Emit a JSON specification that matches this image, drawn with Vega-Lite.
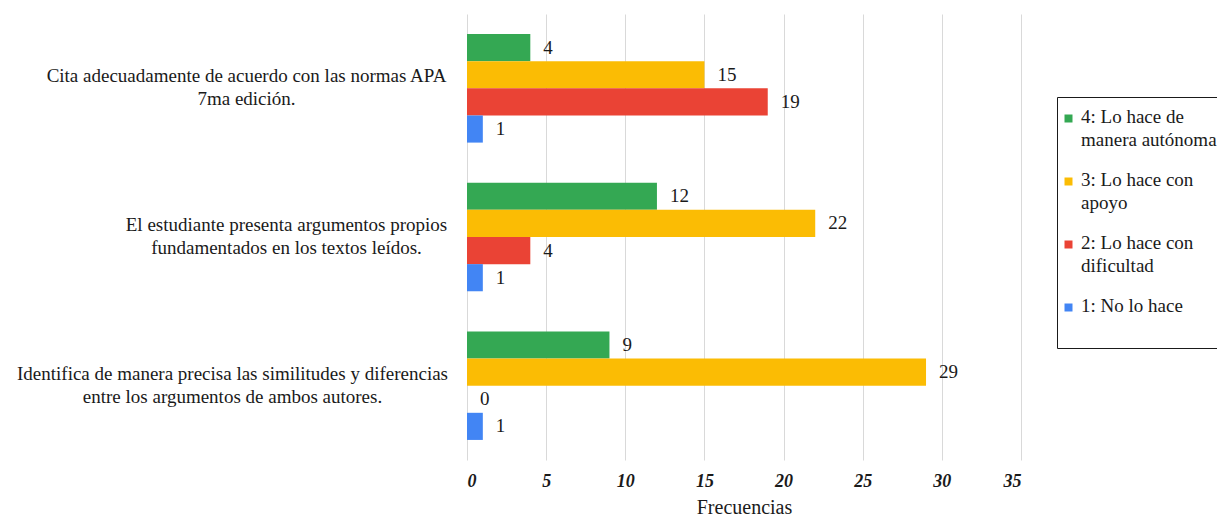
{
  "$schema": "https://vega.github.io/schema/vega-lite/v6.json",
  "autosize": {"type": "none"},
  "padding": {"left": 467, "top": 14, "right": 196, "bottom": 56},
  "width": 554,
  "height": 446,
  "background": "white",
  "config": {"view": {"stroke": null}, "font": "Liberation Serif"},
  "data": {
    "values": [
      {"criterio": "Cita adecuadamente de acuerdo con las normas APA|7ma edición.", "nivel": "4: Lo hace de|manera autónoma", "frecuencia": 4},
      {"criterio": "Cita adecuadamente de acuerdo con las normas APA|7ma edición.", "nivel": "3: Lo hace con|apoyo", "frecuencia": 15},
      {"criterio": "Cita adecuadamente de acuerdo con las normas APA|7ma edición.", "nivel": "2: Lo hace con|dificultad", "frecuencia": 19},
      {"criterio": "Cita adecuadamente de acuerdo con las normas APA|7ma edición.", "nivel": "1: No lo hace", "frecuencia": 1},
      {"criterio": "El estudiante presenta argumentos propios|fundamentados en los textos leídos.", "nivel": "4: Lo hace de|manera autónoma", "frecuencia": 12},
      {"criterio": "El estudiante presenta argumentos propios|fundamentados en los textos leídos.", "nivel": "3: Lo hace con|apoyo", "frecuencia": 22},
      {"criterio": "El estudiante presenta argumentos propios|fundamentados en los textos leídos.", "nivel": "2: Lo hace con|dificultad", "frecuencia": 4},
      {"criterio": "El estudiante presenta argumentos propios|fundamentados en los textos leídos.", "nivel": "1: No lo hace", "frecuencia": 1},
      {"criterio": "Identifica de manera precisa las similitudes y diferencias|entre los argumentos de ambos autores.", "nivel": "4: Lo hace de|manera autónoma", "frecuencia": 9},
      {"criterio": "Identifica de manera precisa las similitudes y diferencias|entre los argumentos de ambos autores.", "nivel": "3: Lo hace con|apoyo", "frecuencia": 29},
      {"criterio": "Identifica de manera precisa las similitudes y diferencias|entre los argumentos de ambos autores.", "nivel": "2: Lo hace con|dificultad", "frecuencia": 0},
      {"criterio": "Identifica de manera precisa las similitudes y diferencias|entre los argumentos de ambos autores.", "nivel": "1: No lo hace", "frecuencia": 1}
    ]
  },
  "encoding": {
    "y": {
      "field": "criterio",
      "type": "nominal",
      "sort": null,
      "scale": {"paddingInner": 0.27, "paddingOuter": 0.135},
      "axis": {
        "title": null,
        "ticks": false,
        "domain": false,
        "labelAlign": "center",
        "labelBaseline": "middle",
        "labelOffset": -12,
        "labelPadding": {
          "condition": [
            {"test": "indexof(datum.value, 'Cita') === 0", "value": 221},
            {"test": "indexof(datum.value, 'El estudiante') === 0", "value": 181}
          ],
          "value": 235
        },
        "labelFont": "Liberation Serif",
        "labelFontSize": 19,
        "labelColor": "#1a1a1a",
        "labelLimit": 600,
        "labelLineHeight": 23,
        "labelExpr": "split(datum.label, '|')"
      }
    },
    "yOffset": {
      "field": "nivel",
      "type": "nominal",
      "sort": ["4: Lo hace de|manera autónoma", "3: Lo hace con|apoyo", "2: Lo hace con|dificultad", "1: No lo hace"]
    },
    "x": {
      "field": "frecuencia",
      "type": "quantitative",
      "scale": {"domain": [0, 35], "nice": false},
      "axis": {
        "title": "Frecuencias",
        "titleFont": "Liberation Serif",
        "titleFontSize": 20,
        "titleFontWeight": "normal",
        "titleColor": "#1a1a1a",
        "titlePadding": 7,
        "values": [0, 5, 10, 15, 20, 25, 30, 35],
        "ticks": false,
        "domain": false,
        "labelPadding": 12,
        "labelFont": "Liberation Serif",
        "labelFontSize": 18,
        "labelFontWeight": "bold",
        "labelFontStyle": "italic",
        "labelColor": "#1a1a1a",
        "gridColor": "#d9d9d9",
        "gridWidth": 1
      }
    }
  },
  "layer": [
    {
      "mark": {"type": "bar"},
      "encoding": {
        "color": {
          "field": "nivel",
          "type": "nominal",
          "scale": {
            "domain": ["4: Lo hace de|manera autónoma", "3: Lo hace con|apoyo", "2: Lo hace con|dificultad", "1: No lo hace"],
            "range": ["#34A853", "#FBBC04", "#EA4335", "#4285F4"]
          },
          "legend": {
            "title": " ",
            "titleOrient": "bottom",
            "titleFontSize": 16,
            "titlePadding": 4,
            "orient": "none",
            "legendX": 590,
            "legendY": 83,
            "strokeColor": "#1a1a1a",
            "padding": 12,
            "symbolType": "square",
            "symbolSize": 64,
            "symbolStrokeWidth": 0,
            "symbolOffset": -10,
            "labelFont": "Liberation Serif",
            "labelFontSize": 19,
            "labelColor": "#1a1a1a",
            "labelLimit": 400,
            "labelOffset": 6,
            "rowPadding": 20,
            "labelBaseline": "top",
            "labelExpr": "split(datum.label, '|')",
            "encode": {
              "labels": {"update": {"lineHeight": {"value": 23}, "dy": {"value": -11}, "dx": {"value": -3}}}
            }
          }
        }
      }
    },
    {
      "mark": {"type": "text", "align": "left", "baseline": "middle", "dx": 13, "font": "Liberation Serif", "fontSize": 19, "color": "#1a1a1a"},
      "encoding": {
        "text": {"field": "frecuencia", "type": "quantitative"}
      }
    }
  ]
}
